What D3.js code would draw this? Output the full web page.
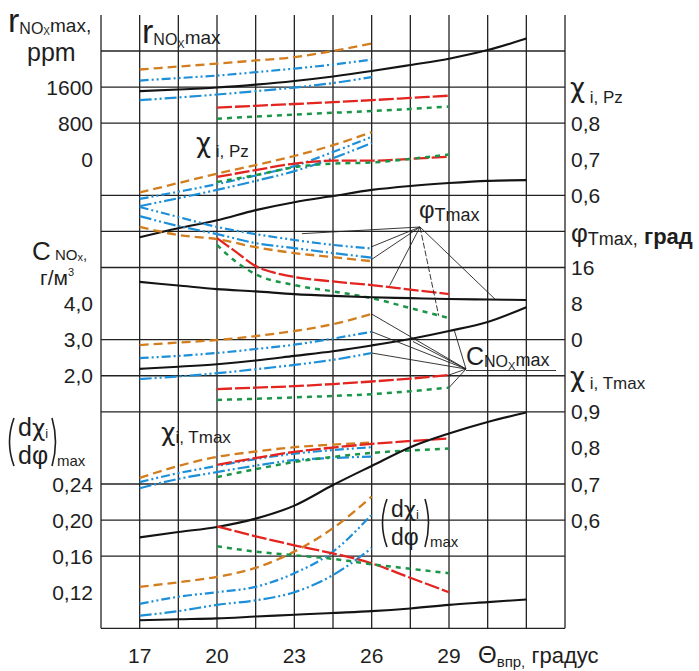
<!DOCTYPE html>
<html lang="ru">
<head>
<meta charset="UTF-8">
<title>Chart</title>
<style>
  body { margin: 0; background: #fff; }
  svg text { font-family: "Liberation Sans", Arial, sans-serif; fill: #1e1e1e; }
</style>
</head>
<body>
<script src="https://d3js.org/d3.v7.min.js"></script>
<script>
// x values (injection advance, degrees)
const xFull = [17, 18.5, 20, 21.5, 23, 24.5, 26, 27.5, 29, 30.5, 32];
const xEarly = [17, 18.5, 20, 21.5, 23, 24.5, 26];
const xLate = [20, 21.5, 23, 24.5, 26, 27.5, 29];
const xPhiRed = [20, 20.75, 21.5, 22.25, 23, 24.5, 26, 27.5, 29];
const xPhiGreen = [20, 20.75, 21.5, 23, 24.5, 26, 27.5, 29];
const xTicks = [17, 20, 23, 26, 29];

// r NOx max, ppm
const rBlack = [1510, 1545, 1590, 1655, 1735, 1835, 1955, 2090, 2230, 2420, 2675];
const rOrange = [1990, 2055, 2120, 2190, 2265, 2400, 2565];
const rBlueA = [1745, 1800, 1855, 1930, 2010, 2100, 2210];
const rBlueB = [1310, 1370, 1435, 1510, 1590, 1690, 1820];
const rRed = [1145, 1185, 1225, 1265, 1310, 1360, 1410];
const rGreen = [900, 945, 990, 1030, 1070, 1115, 1170];

// chi i, Pz
const pzBlack = [0.484, 0.509, 0.531, 0.559, 0.581, 0.598, 0.615, 0.626, 0.634, 0.640, 0.642];
const pzOrange = [0.608, 0.634, 0.660, 0.684, 0.709, 0.739, 0.775];
const pzBlueA = [0.590, 0.610, 0.631, 0.655, 0.681, 0.720, 0.762];
const pzBlueB = [0.570, 0.592, 0.615, 0.640, 0.667, 0.703, 0.745];
const pzRed = [0.651, 0.670, 0.688, 0.696, 0.696, 0.701, 0.707];
const pzGreen = [0.637, 0.656, 0.678, 0.688, 0.691, 0.701, 0.713];

// phi Tmax, degrees
const phiBlack = [12.8, 12.0, 11.2, 10.7, 10.1, 9.7, 9.4, 9.2, 9.0, 8.9, 8.8];
const phiOrange = [25.0, 23.2, 22.3, 20.5, 19.2, 18.3, 17.4];
const phiBlueA = [29.4, 27.2, 25.0, 23.4, 22.1, 21.0, 20.2];
const phiBlueB = [27.4, 25.2, 23.4, 21.4, 20.3, 19.2, 18.2];
const phiRed = [22.5, 19.4, 16.3, 14.8, 13.9, 12.9, 12.1, 11.1, 10.1];
const phiGreen = [21.0, 17.2, 14.5, 12.1, 10.7, 9.2, 7.0, 4.8];

// C NOx max, g/m3
const cBlack = [2.19, 2.25, 2.32, 2.42, 2.55, 2.68, 2.84, 3.02, 3.24, 3.49, 3.90];
const cOrange = [2.85, 2.92, 2.99, 3.10, 3.24, 3.43, 3.71];
const cBlueA = [2.49, 2.55, 2.63, 2.74, 2.86, 3.03, 3.22];
const cBlueB = [1.91, 1.98, 2.07, 2.18, 2.30, 2.44, 2.63];
const cRed = [1.63, 1.67, 1.71, 1.77, 1.84, 1.92, 2.02];
const cGreen = [1.33, 1.36, 1.40, 1.44, 1.49, 1.57, 1.67];

// chi i, Tmax
const tmBlack = [0.552, 0.567, 0.581, 0.604, 0.640, 0.697, 0.750, 0.802, 0.840, 0.872, 0.898];
const tmOrange = [0.717, 0.750, 0.775, 0.790, 0.802, 0.809, 0.815];
const tmBlueA = [0.705, 0.730, 0.750, 0.769, 0.784, 0.794, 0.802];
const tmBlueB = [0.688, 0.714, 0.733, 0.751, 0.766, 0.772, 0.776];
const tmRed = [0.753, 0.772, 0.789, 0.801, 0.811, 0.819, 0.826];
const tmGreen = [0.719, 0.741, 0.761, 0.775, 0.786, 0.793, 0.798];

// (d chi / d phi) max
const dBlack = [0.089, 0.090, 0.091, 0.093, 0.095, 0.097, 0.099, 0.102, 0.106, 0.109, 0.112];
const dOrange = [0.126, 0.131, 0.137, 0.147, 0.165, 0.191, 0.226];
const dBlueA = [0.107, 0.115, 0.120, 0.126, 0.141, 0.165, 0.206];
const dBlueB = [0.094, 0.099, 0.106, 0.111, 0.120, 0.139, 0.169];
const dRed = [0.193, 0.182, 0.172, 0.163, 0.152, 0.136, 0.120];
const dGreen = [0.171, 0.165, 0.161, 0.157, 0.151, 0.146, 0.141];

// tick labels
const rTicks = [0, 800, 1600];
const pzTicks = [0.6, 0.7, 0.8];
const phiTicks = [0, 8, 16];
const cTicks = [2.0, 3.0, 4.0];
const tmTicks = [0.6, 0.7, 0.8, 0.9];
const dTicks = [0.12, 0.16, 0.20, 0.24];
const gridRows = [0, 1, 2, 4, 5, 6, 8, 9, 10, 12, 13, 14, 16];

const W = 699, H = 671;
const svg = d3.select("body").append("svg").attr("width", W).attr("height", H);

const x = d3.scaleLinear().domain([15.5, 33.5]).range([101, 565]);
const yGrid = d3.scaleLinear().domain([0, 16]).range([51, 628.3]);
const yR = d3.scaleLinear().domain([0, 2400]).range([yGrid(3), yGrid(0)]);
const yPz = d3.scaleLinear().domain([0.7, 1.0]).range([yGrid(3), yGrid(0)]);
const yPhi = d3.scaleLinear().domain([0, 24]).range([yGrid(8), yGrid(5)]);
const yC = d3.scaleLinear().domain([3, 6]).range([yGrid(8), yGrid(5)]);
const yTm = d3.scaleLinear().domain([0.6, 0.9]).range([yGrid(13), yGrid(10)]);
const yD = d3.scaleLinear().domain([0.20, 0.32]).range([yGrid(13), yGrid(10)]);

const ru = d3.formatLocale({ decimal: ",", thousands: "", grouping: [3], currency: ["", ""] });

// grid
const grid = svg.append("g").attr("stroke", "#222").attr("stroke-width", 1.3);
grid.selectAll(".v").data(d3.range(15.5, 33.6, 1.5)).enter().append("line")
  .attr("x1", d => x(d)).attr("x2", d => x(d))
  .attr("y1", 15).attr("y2", yGrid(16));
grid.selectAll(".h").data(gridRows).enter().append("line")
  .attr("x1", x(15.5)).attr("x2", x(33.5))
  .attr("y1", d => yGrid(d)).attr("y2", d => yGrid(d));

const styles = {
  black: { c: "#141414", w: 2.1, dash: null },
  orange: { c: "#d27d1e", w: 2.3, dash: "9,5" },
  blueA: { c: "#1d8fd8", w: 2.2, dash: "9,3,2,3,2,3" },
  blueB: { c: "#1d8fd8", w: 2.2, dash: "12,3,2,3,2,3" },
  red: { c: "#e3241f", w: 2.3, dash: "15,3" },
  green: { c: "#1b9548", w: 2.5, dash: "5,5" }
};

const panels = [
  { y: yR, s: [[xEarly, rOrange, "orange"], [xEarly, rBlueA, "blueA"], [xEarly, rBlueB, "blueB"], [xLate, rRed, "red"], [xLate, rGreen, "green"], [xFull, rBlack, "black"]] },
  { y: yPz, s: [[xEarly, pzOrange, "orange"], [xEarly, pzBlueA, "blueA"], [xEarly, pzBlueB, "blueB"], [xLate, pzRed, "red"], [xLate, pzGreen, "green"], [xFull, pzBlack, "black"]] },
  { y: yPhi, s: [[xEarly, phiOrange, "orange"], [xEarly, phiBlueA, "blueA"], [xEarly, phiBlueB, "blueB"], [xPhiRed, phiRed, "red"], [xPhiGreen, phiGreen, "green"], [xFull, phiBlack, "black"]] },
  { y: yC, s: [[xEarly, cOrange, "orange"], [xEarly, cBlueA, "blueA"], [xEarly, cBlueB, "blueB"], [xLate, cRed, "red"], [xLate, cGreen, "green"], [xFull, cBlack, "black"]] },
  { y: yTm, s: [[xEarly, tmOrange, "orange"], [xEarly, tmBlueA, "blueA"], [xEarly, tmBlueB, "blueB"], [xLate, tmRed, "red"], [xLate, tmGreen, "green"], [xFull, tmBlack, "black"]] },
  { y: yD, s: [[xEarly, dOrange, "orange"], [xEarly, dBlueA, "blueA"], [xEarly, dBlueB, "blueB"], [xLate, dRed, "red"], [xLate, dGreen, "green"], [xFull, dBlack, "black"]] }
];

panels.forEach(p => {
  const line = d3.line().x(d => x(d[0])).y(d => p.y(d[1])).curve(d3.curveMonotoneX);
  p.s.forEach(s => {
    const st = styles[s[2]];
    svg.append("path")
      .datum(d3.zip(s[0], s[1]))
      .attr("d", line)
      .attr("fill", "none")
      .attr("stroke", st.c)
      .attr("stroke-width", st.w)
      .attr("stroke-dasharray", st.dash);
  });
});

// leader lines
const lead = svg.append("g").attr("stroke", "#222").attr("stroke-width", 0.9).attr("fill", "none");
const phiApex = [420, 227];
const phiTargets = [[23.3, 23.5], [26, 20.6], [26, 17.8], [26.7, 12.0], [28.6, 5.3], [30.8, 8.9]];
phiTargets.forEach((t, i) => {
  lead.append("line").attr("x1", phiApex[0]).attr("y1", phiApex[1])
    .attr("x2", x(t[0])).attr("y2", yPhi(t[1]))
    .attr("stroke-dasharray", i === 4 ? "6,2" : null);
});
const cApex = [466, 369];
const cTargets = [[26, 3.71], [26, 3.22], [26, 2.63], [27.6, 2.95], [29.2, 3.27], [29, 2.02], [29, 1.67]];
cTargets.forEach(t => {
  lead.append("line").attr("x1", cApex[0]).attr("y1", cApex[1])
    .attr("x2", x(t[0])).attr("y2", yC(t[1]));
});
lead.append("line").attr("x1", 466).attr("x2", 556).attr("y1", 370.5).attr("y2", 370.5);

// tick labels
const tickFont = 21;
function leftTicks(vals, scale, fmt) {
  svg.append("g").selectAll("text").data(vals).enter().append("text")
    .attr("x", 93).attr("y", d => scale(d)).attr("dy", "0.36em")
    .attr("text-anchor", "end").attr("font-size", tickFont)
    .text(fmt);
}
function rightTicks(vals, scale, fmt) {
  svg.append("g").selectAll("text").data(vals).enter().append("text")
    .attr("x", 571).attr("y", d => scale(d)).attr("dy", "0.36em")
    .attr("font-size", tickFont)
    .text(fmt);
}
leftTicks(rTicks, yR, d => d);
leftTicks(cTicks, yC, ru.format(".1f"));
leftTicks(dTicks, yD, ru.format(".2f"));
rightTicks(pzTicks, yPz, ru.format(".1f"));
rightTicks(phiTicks, yPhi, d => d);
rightTicks(tmTicks, yTm, ru.format(".1f"));

svg.append("g").selectAll("text").data(xTicks).enter().append("text")
  .attr("x", d => x(d)).attr("y", 663)
  .attr("text-anchor", "middle").attr("font-size", tickFont)
  .text(d => d);

// rich text helper: parts = [text, size, dy, weight, family]
const greek = "'DejaVu Sans', sans-serif";
function rich(px, py, parts) {
  const t = svg.append("text").attr("x", px).attr("y", py);
  parts.forEach(p => {
    t.append("tspan").attr("font-size", p[1]).attr("dy", p[2] || 0)
      .attr("font-weight", p[3] || null)
      .style("font-family", p[4] || null).text(p[0]);
  });
  return t;
}

// axis titles
rich(8, 32, [["r", 34], ["NO", 16, 2], ["X", 10, 1], ["max,", 19, -3]]);
rich(27, 61, [["ppm", 25]]);
rich(142, 43, [["r", 34], ["NO", 16, 2], ["X", 11, 3], ["max", 19, -4]]);
rich(196, 152, [["χ", 26, 0, null, greek], [" i, Pz", 17, 5]]);
rich(570, 97, [["χ", 26, 0, null, greek], [" i, Pz", 17, 6]]);
rich(571, 242, [["φ", 26], ["Tmax,", 18, 3], [" град", 22, -1, "bold"]]);
rich(570, 386, [["χ", 26, 0, null, greek], [" i, Tmax", 17, 3]]);
rich(419, 218, [["φ", 24], ["Tmax", 18, 3]]);
rich(466, 365, [["C", 25], ["NO", 16, 2], ["X", 11, 3], ["max", 18, -4]]);
rich(32, 260, [["C", 26], [" NO", 15, 0], ["x", 11, 1], [",", 15, -1]]);
rich(40, 285, [["г/м", 21], ["3", 11, -9]]);
rich(161, 441, [["χ", 25, 0, null, greek], ["i, Tmax", 17, 2]]);
rich(478, 663, [["Θ", 24], ["впр,", 15, 4], [" градус", 22, -4]]);

// derivative labels
function deriv(px, py, big, small) {
  const g = svg.append("g");
  g.append("path").attr("d", `M${px + 7},${py - 22} Q${px - 2},${py + 2} ${px + 7},${py + 26}`)
    .attr("fill", "none").attr("stroke", "#1e1e1e").attr("stroke-width", 1.6);
  g.append("path").attr("d", `M${px + 45},${py - 22} Q${px + 52},${py + 2} ${px + 45},${py + 26}`)
    .attr("fill", "none").attr("stroke", "#1e1e1e").attr("stroke-width", 1.6);
  rich(px + 11, py - 4, [["d", big], ["χ", big - 2, 0, null, greek], ["i", small, 2]]);
  rich(px + 11, py + 24, [["dφ", big]]);
  rich(px + 50, py + 26, [["max", small + 2]]);
}
deriv(7, 440, 25, 13);
deriv(380, 521, 23, 13);
</script>
</body>
</html>
